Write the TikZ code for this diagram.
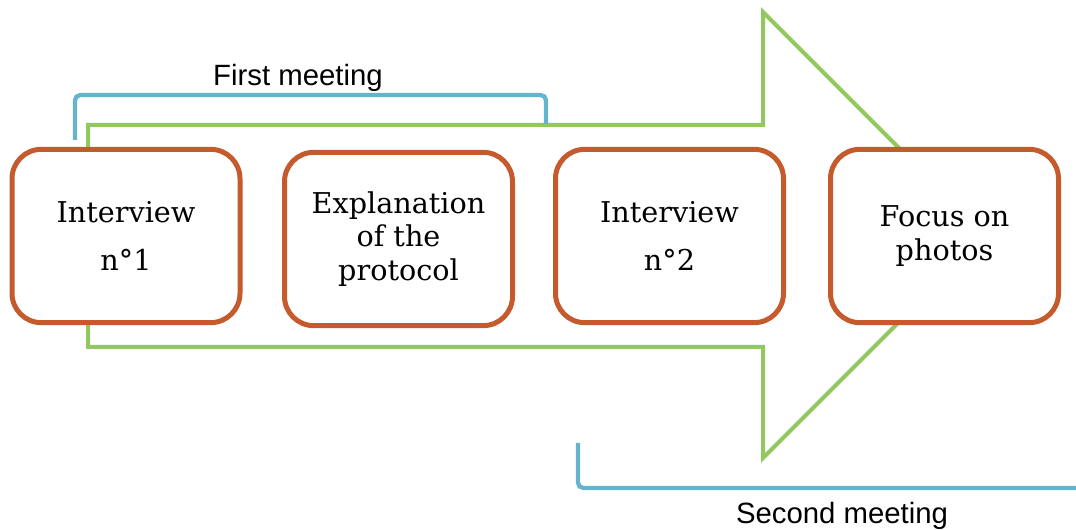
\documentclass[tikz,border=0pt]{standalone}
\usepackage{fontspec}
\setmainfont{DejaVu Serif}
\newfontfamily\labelfont{Liberation Sans}
\definecolor{arrowgreen}{RGB}{146,200,96}
\definecolor{boxorange}{RGB}{197,90,44}
\definecolor{braceblue}{RGB}{100,180,205}
\begin{document}
\begin{tikzpicture}[x=0.75pt,y=-0.75pt,
  stepbox/.style={draw=boxorange,line width=3.75pt,fill=white,rounded corners=22pt,
    minimum width=171pt,minimum height=130pt,align=center,inner sep=0pt,
    font=\fontsize{21.5}{25}\selectfont},
  arrowline/.style={draw=arrowgreen,line width=3pt},
  bracketline/.style={draw=braceblue,line width=3.2pt,rounded corners=4pt},
  meetlabel/.style={font=\labelfont\fontsize{22}{25}\selectfont,inner sep=0pt}]
\useasboundingbox (0,0) rectangle (1076,530);
% big arrow
\draw[arrowline] (88,125) -- (763,125) -- (763,12) -- (986,235) -- (763,458) -- (763,347) -- (88,347) -- cycle;
% brackets
\coordinate (b1s) at (75,140);
\coordinate (b1e) at (546,124);
\draw[bracketline] (b1s) -- (75,95) -- (546,95) -- (b1e);
\coordinate (b2s) at (578,443);
\coordinate (b2e) at (1080,488);
\draw[bracketline] (b2s) -- (578,488) -- (b2e);
\node[meetlabel] (first) at (298,78) {First meeting};
\node[meetlabel] (second) at (842,516) {Second meeting};
% boxes
\node[stepbox] (a) at (126,236) {Interview\\[11pt]n°1};
\node[stepbox] (b) at (398.5,239) {Explanation\\of the\\protocol};
\node[stepbox] (c) at (669.5,236) {Interview\\[11pt]n°2};
\node[stepbox] (d) at (944.5,236) {Focus on\\photos};
\end{tikzpicture}
\end{document}
